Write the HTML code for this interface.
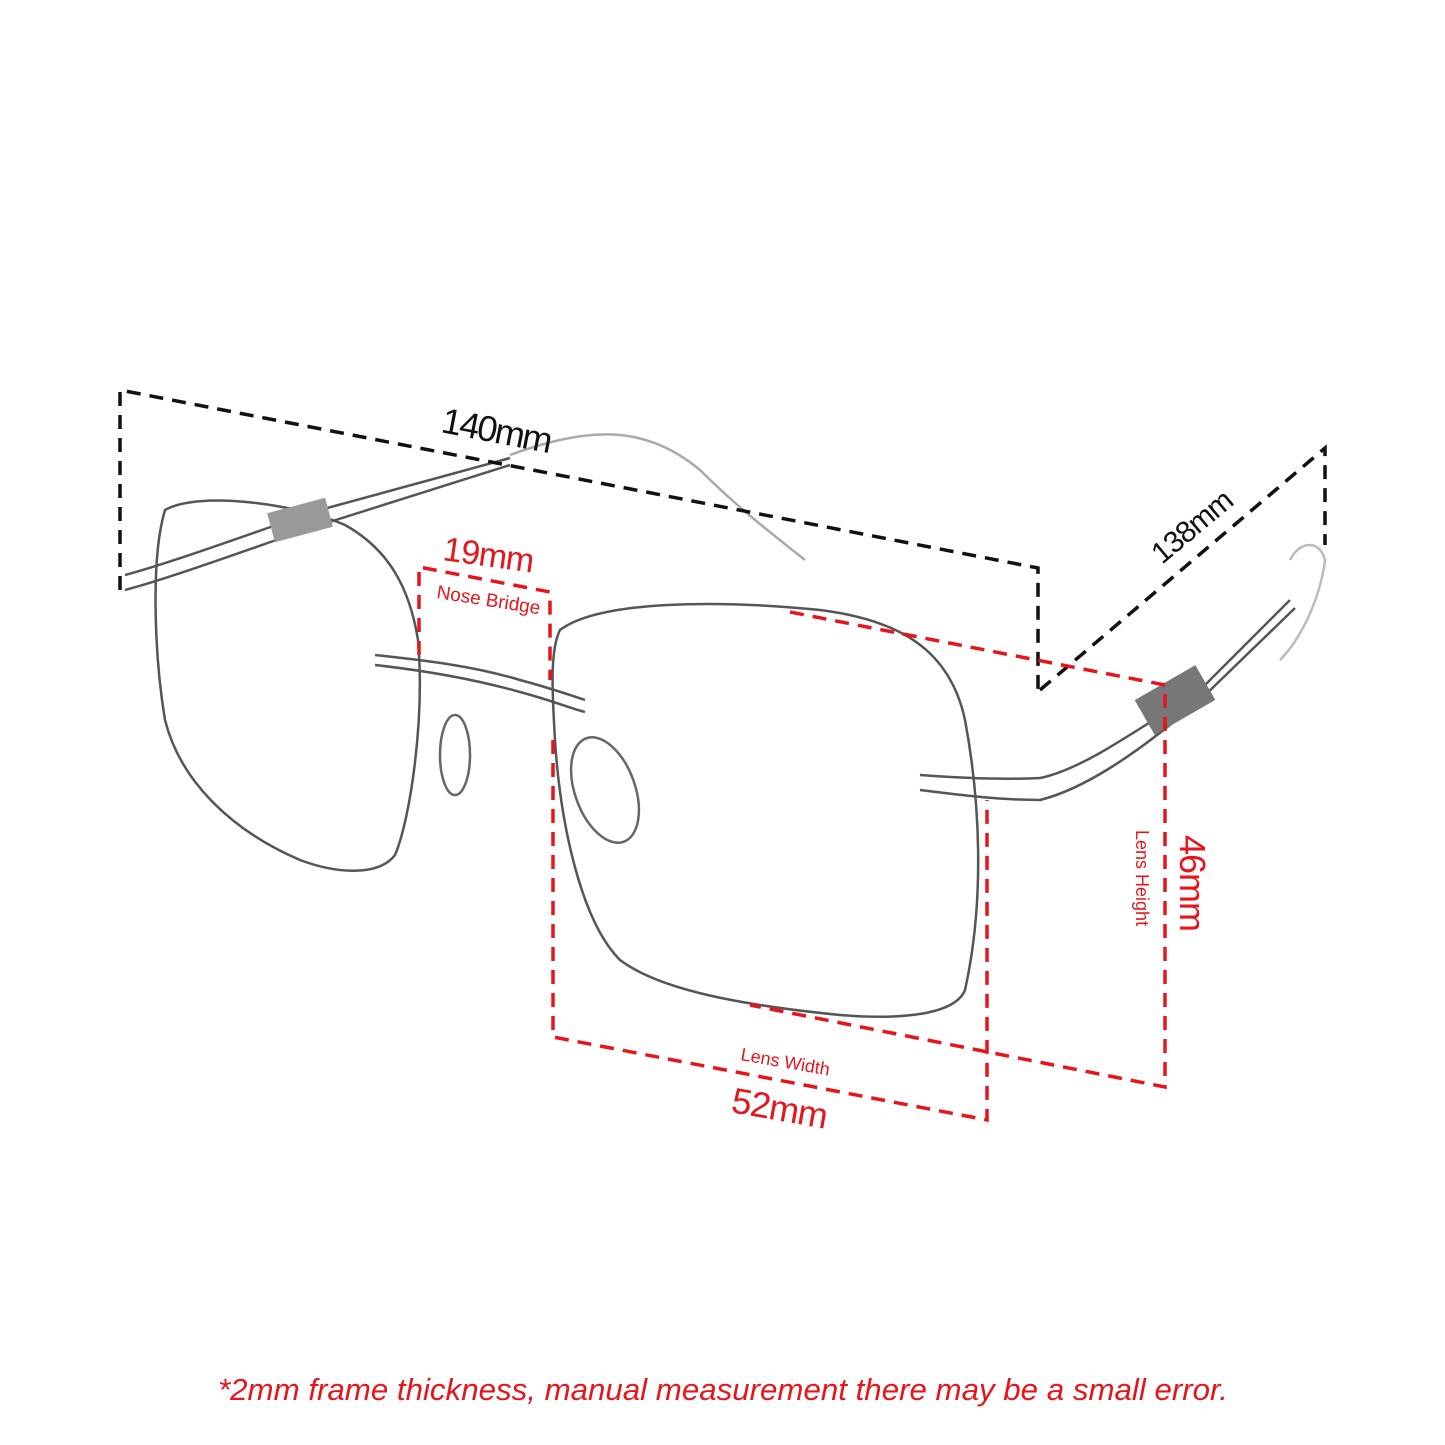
<!DOCTYPE html>
<html><head><meta charset="utf-8"><style>
html,body{margin:0;padding:0;background:#fff}
svg{display:block}
text{font-family:"Liberation Sans",sans-serif}
</style></head><body>
<svg width="1445" height="1445" viewBox="0 0 1445 1445" xmlns="http://www.w3.org/2000/svg">
<rect width="1445" height="1445" fill="#fff"/>
<g fill="none" stroke="#555" stroke-width="2.5">
<path d="M165,510 C200,490 300,505 345,525 C390,550 410,590 418,640 C425,720 410,820 395,855 C380,875 340,875 300,860 C230,830 180,780 165,720 C155,660 150,560 165,510 Z"/>
<path d="M560,630 C600,600 720,600 820,610 C900,620 950,650 965,720 C980,800 985,900 965,990 C955,1015 900,1020 840,1015 C740,1005 660,990 620,960 C580,920 560,820 555,740 C552,690 550,650 560,630 Z"/>
<path d="M375,655 C420,660 470,665 520,680 C550,688 570,695 585,700"/>
<path d="M375,665 C420,670 470,678 520,692 C550,700 570,708 585,712"/>
<path d="M920,775 C960,778 1000,780 1040,778 C1080,770 1130,735 1200,690 L1290,600"/>
<path d="M920,790 C960,795 1000,800 1040,800 C1080,790 1130,760 1200,700 L1295,608"/>
<path d="M125,575 C180,560 260,530 320,510 L510,458"/>
<path d="M125,590 C180,575 260,545 320,525 L510,465"/>
<path d="M510,455 C580,430 640,420 700,470 C740,510 780,540 805,560" stroke="#aaa"/>
<path d="M1290,560 C1300,540 1320,540 1325,560 C1320,600 1300,640 1280,660" stroke="#bbb"/>
<ellipse cx="455" cy="755" rx="15" ry="40" stroke="#666"/>
<ellipse cx="605" cy="790" rx="30" ry="55" transform="rotate(-20 605 790)" stroke="#666"/>
</g>
<rect x="1140" y="680" width="70" height="40" fill="#777" transform="rotate(-30 1175 700)"/>
<rect x="270" y="505" width="60" height="30" fill="#999" transform="rotate(-15 300 520)"/>
<g fill="none" stroke="#111" stroke-width="3.5" stroke-dasharray="14,9">
<path d="M120,590 L120,390 L1038,568 L1038,690"/>
<path d="M1040,690 L1325,448 L1325,545"/>
</g>
<text x="440" y="432" font-size="36" fill="#111" transform="rotate(11 440 432)" letter-spacing="-2">140mm</text>
<text x="1162" y="565" font-size="30" fill="#111" transform="rotate(-40 1162 565)" letter-spacing="-1">138mm</text>
<g fill="none" stroke="#e8141b" stroke-width="3.5" stroke-dasharray="14,9">
<path d="M419,655 L419,567 L550,592 L550,680"/>
<path d="M553,740 L553,1037 L987,1120 L987,800"/>
<path d="M790,612 L1165,685 L1165,1087 L750,1005"/>
</g>
<g fill="#e8141b">
<text x="442" y="560" font-size="34" transform="rotate(8 442 560)" letter-spacing="-1">19mm</text>
<text x="436" y="598" font-size="19" transform="rotate(9 436 598)">Nose Bridge</text>
<text x="740" y="1060" font-size="18" transform="rotate(10 740 1060)">Lens Width</text>
<text x="730" y="1112" font-size="36" transform="rotate(10 730 1112)" letter-spacing="-1">52mm</text>
<text x="1180" y="835" font-size="36" transform="rotate(90 1180 835)" letter-spacing="-1">46mm</text>
<text x="1136" y="830" font-size="18" transform="rotate(90 1136 830)">Lens Height</text>
<text x="218" y="1400" font-size="31" font-style="italic" textLength="1010" lengthAdjust="spacingAndGlyphs">*2mm frame thickness, manual measurement there may be a small error.</text>
</g>
</svg>
</body></html>
